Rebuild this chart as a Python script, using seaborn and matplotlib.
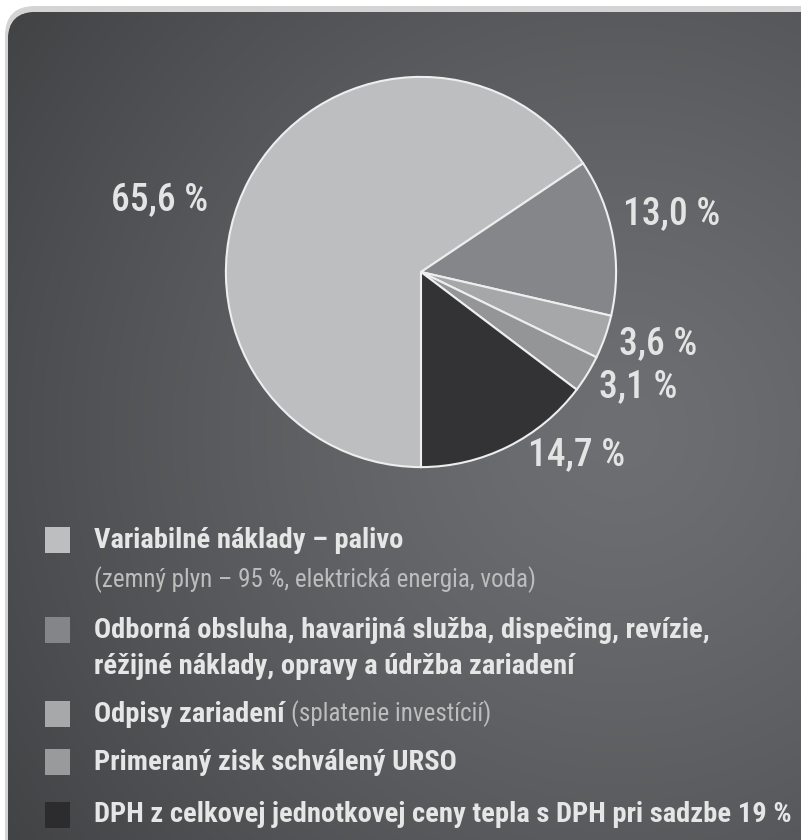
import numpy as np
import matplotlib
matplotlib.use("Agg")
import matplotlib.pyplot as plt
import seaborn as sns
from matplotlib import font_manager
from matplotlib.patches import FancyBboxPatch, Rectangle

# podiel nakladov na cene tepla (%)
shares = [65.6, 13.0, 3.6, 3.1, 14.7]
slice_colors = ["#bdbec0", "#85868a", "#a6a7a9", "#949597", "#333335"]
square_colors = ["#bdbec0", "#848589", "#a7a8aa", "#999a9c", "#2c2c2e"]

legend_bold = [
    "Variabilné náklady – palivo",
    "Odborná obsluha, havarijná služba, dispečing, revízie,\nréžijné náklady, opravy a údržba zariadení",
    "Odpisy zariadení",
    "Primeraný zisk schválený URSO",
    "DPH z celkovej jednotkovej ceny tepla s DPH pri sadzbe 19 %",
]
legend_note = [
    "(zemný plyn – 95 %, elektrická energia, voda)",
    "",
    "(splatenie investícií)",
    "",
    "",
]
note_inline = [False, False, True, False, False]

# umiestnenie popisiek okolo kolaca (uhol v stupnoch, vzdialenost v polomeroch)
label_angle = [164.5, 13.0, -16.9, -27.9, -49.6]
label_dist = [1.39, 1.32, 1.27, 1.26, 1.23]


def pick_font(names):
    have = {f.name for f in font_manager.fontManager.ttflist}
    for n in names:
        if n in have:
            return n
    return "DejaVu Sans"


narrow = pick_font(["Liberation Sans Narrow", "Roboto Condensed", "DejaVu Sans Condensed", "Liberation Sans"])

sns.set_theme(style="white")
plt.rcParams["font.family"] = [narrow, "DejaVu Sans"]

W, H = 801, 840
fig = plt.figure(figsize=(W / 100, H / 100), dpi=100, facecolor="white")

# pozadie s radialnym prechodom
bg = fig.add_axes([0, 0, 1, 1])
bg.set_xlim(0, W)
bg.set_ylim(H, 0)
bg.axis("off")

shadow = FancyBboxPatch((5, 6), 1000, 1000, boxstyle="round,pad=0,rounding_size=30",
                        facecolor="#d4d4d4", edgecolor="none", zorder=0)
bg.add_patch(shadow)
panel = FancyBboxPatch((8, 12), 1000, 1000, boxstyle="round,pad=0,rounding_size=28",
                       facecolor="#4a4b4d", edgecolor="none", zorder=1)
bg.add_patch(panel)

yy, xx = np.mgrid[0:H, 0:W]
d = np.sqrt((xx - 620.0) ** 2 + (yy - 430.0) ** 2)
t = np.clip(d / 750.0, 0, 1) ** 1.3
c0 = np.array([0x6e, 0x6f, 0x72]) / 255
c1 = np.array([0x41, 0x42, 0x44]) / 255
img = c0[None, None, :] * (1 - t[..., None]) + c1[None, None, :] * t[..., None]
im = bg.imshow(img, extent=(0, W, H, 0), zorder=2, interpolation="bilinear")
im.set_clip_path(panel)

# kolac
cx, cy, r = 421, 272, 199
ax = fig.add_axes([(cx - r) / W, (H - cy - r) / H, 2 * r / W, 2 * r / H])
ax.set_zorder(3)
ax.patch.set_alpha(0)
ax.pie(shares, colors=slice_colors, startangle=-90, counterclock=False, radius=1,
       wedgeprops=dict(edgecolor="#eeeeee", linewidth=1.5))
ax.set_xlim(-1.02, 1.02)
ax.set_ylim(-1.02, 1.02)
ax.set_aspect("equal")

for v, a, dist in zip(shares, label_angle, label_dist):
    txt = f"{v:.1f}".replace(".", ",") + " %"
    ax.text(dist * np.cos(np.radians(a)), dist * np.sin(np.radians(a)), txt,
            ha="center", va="center", fontsize=27, fontweight="medium",
            color="#e4e4e4", clip_on=False)

# legenda
row_y = [540, 630, 714, 762, 815]
line_gap = 36
note_gap = 40
fig.canvas.draw()
renderer = fig.canvas.get_renderer()
for i, (lab, note) in enumerate(zip(legend_bold, legend_note)):
    y = row_y[i]
    bg.add_patch(Rectangle((45, y - 13), 25, 26, facecolor=square_colors[i],
                           edgecolor="none", zorder=3))
    lines = lab.split("\n")
    last = None
    for j, ln in enumerate(lines):
        last = bg.text(94, y + j * line_gap, ln, ha="left", va="center", fontsize=20.5,
                       fontweight="bold", color="#e6e6e6", zorder=4)
    if note:
        if note_inline[i]:
            bb = last.get_window_extent(renderer)
            x_end = bg.transData.inverted().transform((bb.x1, bb.y0))[0]
            bg.text(x_end + 6, y, note, ha="left", va="center", fontsize=18,
                    color="#bdbdbd", zorder=4)
        else:
            bg.text(94, y + note_gap, note, ha="left", va="center", fontsize=18,
                    color="#bdbdbd", zorder=4)

fig.savefig("out.png", dpi=100, facecolor="white")
